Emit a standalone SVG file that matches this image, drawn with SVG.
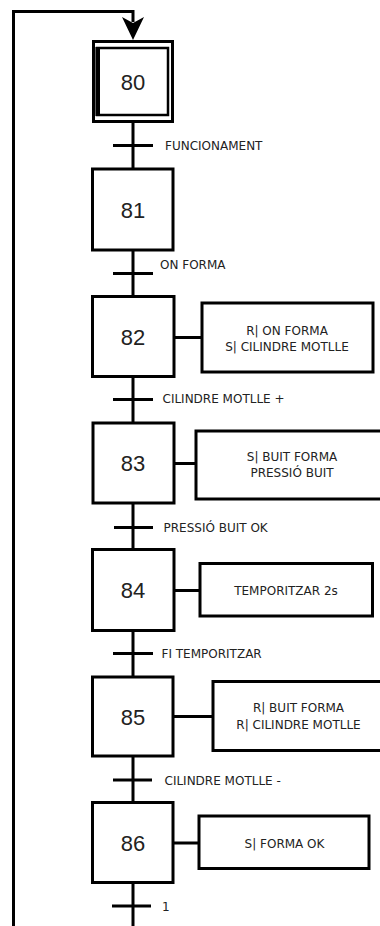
<svg xmlns="http://www.w3.org/2000/svg" width="380" height="926" viewBox="0 0 380 926">
<style>
.box{fill:#fff;stroke:#000;stroke-width:3}
.act{fill:#fff;stroke:#000;stroke-width:3}
.ln{fill:none;stroke:#000;stroke-width:3}
.num{font-family:"Liberation Sans",Arial,sans-serif;font-size:22px;fill:#222;text-anchor:middle}
.lbl{font-family:"DejaVu Sans",Verdana,sans-serif;font-size:12px;fill:#222}
.at{font-family:"DejaVu Sans",Verdana,sans-serif;font-size:12px;fill:#222;text-anchor:middle}
</style>
<rect width="380" height="926" fill="#fff"/>
<g id="connectors">
<path class="ln" d="M13.5,926 V11.5 H133 V22"/>
<polygon points="122,17 133,23 144,17 133,40" fill="#000"/>
<path class="ln" d="M133,123 V169 M133,250 V296 M133,377 V423 M133,503 V549 M133,631 V677 M133,756 V802 M133,883 V926"/>
<path class="ln" d="M113,145.5 H153 M113,273.5 H153 M113,399.5 H153 M114,527.5 H153 M113,653.5 H153 M113,780 H152 M112,906 H151"/>
<path class="ln" d="M174,337.5 H202 M174,463.5 H196 M174,590.5 H200 M173,716.5 H213 M173,843 H199"/>
<text class="lbl" x="165" y="149.5">FUNCIONAMENT</text>
<text class="lbl" x="160" y="268.5">ON FORMA</text>
<text class="lbl" x="162.5" y="402.5">CILINDRE MOTLLE +</text>
<text class="lbl" x="163.5" y="532">PRESSIÓ BUIT OK</text>
<text class="lbl" x="161.5" y="657.5">FI TEMPORITZAR</text>
<text class="lbl" x="164.5" y="784.5">CILINDRE MOTLLE -</text>
<text class="lbl" x="162" y="910.5">1</text>
</g>
<g id="step80">
<rect class="box" x="93.5" y="41.5" width="79" height="80"/>
<rect x="97" y="48" width="71" height="67" fill="none" stroke="#000" stroke-width="2.5"/>
<rect x="95.5" y="47" width="4.5" height="69" fill="#000"/>
<text class="num" x="133" y="90">80</text>
</g>
<g id="step81">
<rect class="box" x="92.5" y="169" width="80.5" height="81" stroke-width="2.6"/>
<text class="num" x="133" y="218">81</text>
</g>
<g id="step82">
<rect class="box" x="92.5" y="296.5" width="81.5" height="80" stroke-width="3.5"/>
<text class="num" x="133" y="345">82</text>
</g>
<g id="step83">
<rect class="box" x="93" y="423" width="81" height="80"/>
<text class="num" x="133" y="471">83</text>
</g>
<g id="step84">
<rect class="box" x="92.5" y="549.5" width="81.5" height="81"/>
<text class="num" x="133" y="598">84</text>
</g>
<g id="step85">
<rect class="box" x="92.5" y="677" width="80.5" height="79"/>
<text class="num" x="133" y="724.5">85</text>
</g>
<g id="step86">
<rect class="box" x="92.5" y="802.5" width="80.5" height="80"/>
<text class="num" x="133" y="850.5">86</text>
</g>
<g id="action82">
<rect class="act" x="202" y="303" width="171" height="69"/>
<text class="at" x="287" y="334.5">R| ON FORMA</text>
<text class="at" x="287" y="351">S| CILINDRE MOTLLE</text>
</g>
<g id="action83">
<rect class="act" x="196" y="431" width="220" height="68"/>
<text class="at" x="292" y="461">S| BUIT FORMA</text>
<text class="at" x="292" y="476.5">PRESSIÓ BUIT</text>
</g>
<g id="action84">
<rect class="act" x="200" y="563.5" width="172.5" height="52.5"/>
<text class="at" x="286" y="595">TEMPORITZAR 2s</text>
</g>
<g id="action85">
<rect class="act" x="213" y="681.5" width="200" height="69"/>
<text class="at" x="298.5" y="712">R| BUIT FORMA</text>
<text class="at" x="298.5" y="728.5">R| CILINDRE MOTLLE</text>
</g>
<g id="action86">
<rect class="act" x="199" y="816" width="170" height="52.5"/>
<text class="at" x="284.5" y="847.5">S| FORMA OK</text>
</g>
</svg>
